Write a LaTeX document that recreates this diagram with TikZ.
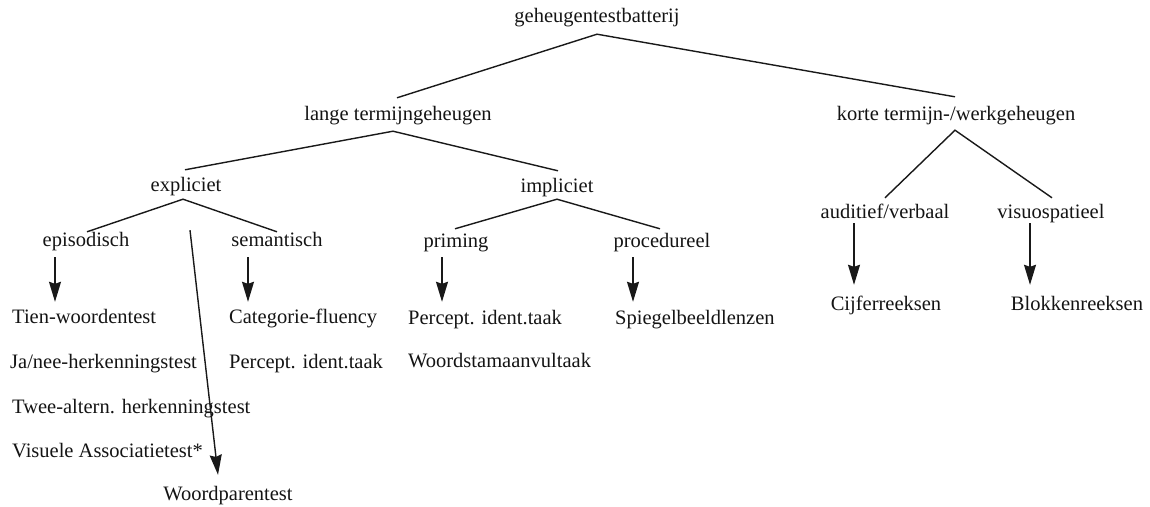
\documentclass[tikz,border=0pt]{standalone}
\usepackage{fontspec}
\setmainfont{Liberation Serif}
\usetikzlibrary{arrows.meta,calc}
\begin{document}
\begin{tikzpicture}[x=1pt,y=-1pt,
  lbl/.style={inner sep=0pt, text height=14pt, text depth=4pt, font=\fontsize{20.5}{24}\selectfont, text=black!92},
  lst/.style={lbl, anchor=west},
  edge/.style={line width=1.4pt, draw=black!90},
  arr/.style={edge, -{Stealth[length=20pt,width=12pt,inset=2pt]}}]
\useasboundingbox (0,0) rectangle (1150,506);
\fill[white] (0,0) rectangle (1150,506);
% nodes
\node[lbl] (g) at (597,17) {geheugentestbatterij};
\node[lbl] (lt) at (398,115) {lange termijngeheugen};
\node[lbl] (kt) at (956,115) {korte termijn-/werkgeheugen};
\node[lbl] (ex) at (186,186) {expliciet};
\node[lbl] (im) at (557,187) {impliciet};
\node[lbl] (ep) at (86,241) {episodisch};
\node[lbl] (se) at (277,241) {semantisch};
\node[lbl] (pr) at (456,242) {priming};
\node[lbl] (pc) at (662,242) {procedureel};
\node[lbl] (av) at (885,213) {auditief/verbaal};
\node[lbl] (vs) at (1051,213) {visuospatieel};
\node[lst] (t1) at (12,318) {Tien-woordentest};
\node[lst] (t2) at (10,363) {Ja/nee-herkenningstest};
\node[lst] (t3) at (12,408) {Twee-altern. herkenningstest};
\node[lst] (t4) at (12,452) {Visuele Associatietest*};
\node[lbl] (wp) at (228,495) {Woordparentest};
\node[lst] (s1) at (229,318) {Categorie-fluency};
\node[lst] (s2) at (229,363) {Percept. ident.taak};
\node[lst] (p1) at (408,319) {Percept. ident.taak};
\node[lst] (p2) at (408,362) {Woordstamaanvultaak};
\node[lst] (c1) at (615,319) {Spiegelbeeldlenzen};
\node[lbl] (k1) at (886,305) {Cijferreeksen};
\node[lbl] (k2) at (1077,305) {Blokkenreeksen};
% tree lines
\draw[edge] ($(lt.north)+(-1,-8)$) -- ($(g.south)+(0,8)$) -- ($(kt.north)+(-1,-9)$);
\draw[edge] ($(ex.north)+(-1,-7)$) -- ($(lt.south)+(-5,7)$) -- ($(im.north)+(1,-7)$);
\draw[edge] ($(ep.north)+(1,0)$) -- ($(ex.south)+(-3,4)$) -- (se.north);
\draw[edge] ($(pr.north)+(-1,-4)$) -- ($(im.south)+(0,3)$) -- ($(pc.north)+(-2,-4)$);
\draw[edge] ($(av.north)+(0,-6)$) -- ($(kt.south)+(-1,6)$) -- ($(vs.north)+(1,-6)$);
% arrows
\draw[arr] ($(ep.south)+(-31,7)$) -- ($(t1.north -| ep.south)+(-31,-7)$);
\draw[arr] ($(se.south)+(-29,7)$) -- ($(s1.north -| se.south)+(-29,-7)$);
\draw[arr] ($(pr.south)+(-14,6)$) -- ($(p1.north -| pr.south)+(-14,-8)$);
\draw[arr] ($(pc.south)+(-29,6)$) -- ($(c1.north -| pc.south)+(-29,-8)$);
\draw[arr] ($(av.south)+(-31,1)$) -- ($(k1.north -| av.south)+(-31,-11)$);
\draw[arr] ($(vs.south)+(-21,1)$) -- ($(k2.north -| vs.south)+(-21,-11)$);
\draw[arr] ($(ex.south)+(4,35)$) -- ($(wp.north)+(-10,-11)$);
\end{tikzpicture}
\end{document}
